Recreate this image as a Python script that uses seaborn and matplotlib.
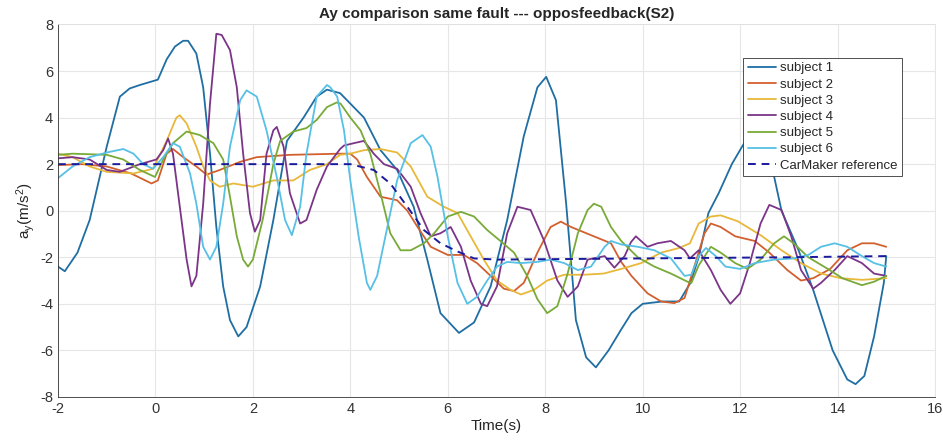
import pandas as pd
import matplotlib
matplotlib.use("Agg")
import matplotlib.pyplot as plt
import seaborn as sns

# --- data (time in s, ay in m/s^2) ---
s1_t = [-2.0, -1.86, -1.6, -1.35, -1.0, -0.73, -0.53, -0.32, 0.05, 0.23, 0.4, 0.57, 0.67, 0.84, 0.98,
        1.12, 1.25, 1.39, 1.53, 1.7, 1.87, 2.15, 2.42, 2.7, 3.04, 3.31, 3.52, 3.79, 4.0, 4.28, 4.62, 4.96,
        5.3, 5.58, 5.85, 6.23, 6.54, 6.88, 7.22, 7.56, 7.84, 8.02, 8.22, 8.43, 8.63, 8.84, 9.04, 9.3,
        9.56, 9.77, 10.0, 10.4, 10.75, 10.98, 11.15, 11.35, 11.56, 11.83, 12.04, 12.2, 12.45, 12.7, 12.85,
        13.2, 13.5, 13.9, 14.2, 14.37, 14.55, 14.75, 14.95, 15.0]
s1_a = [-2.4, -2.6, -1.8, -0.4, 2.75, 4.9, 5.25, 5.4, 5.63, 6.5, 7.05, 7.3, 7.3, 6.75, 5.3,
        2.45, -0.7, -3.25, -4.7, -5.4, -5.0, -3.25, -0.4, 3.0, 4.0, 4.9, 5.2, 5.05, 4.6, 4.0, 2.6, 1.75,
        0.17, -2.1, -4.4, -5.25, -4.8, -3.25, -0.4, 3.2, 5.3, 5.75, 4.75, 0.3, -4.7, -6.3, -6.73, -6.0,
        -5.1, -4.4, -4.0, -3.9, -3.9, -3.1, -2.0, -0.1, 0.75, 2.0, 2.75, 3.3, 3.8, 1.45, 0.0,
        -1.7, -3.4, -6.0, -7.25, -7.45, -7.1, -5.4, -3.1, -1.95]

s2_t = [-2.0, -1.5, -1.0, -0.5, -0.08, 0.05, 0.23, 0.36, 0.57, 0.84, 1.05, 1.32, 1.74, 2.08, 2.76, 3.8,
        4.0, 4.14, 4.34, 4.62, 4.96, 5.17, 5.38, 5.65, 6.0, 6.33, 6.6, 6.88, 7.15, 7.36, 7.56, 7.84, 8.11,
        8.32, 8.53, 8.94, 9.35, 9.56, 9.77, 10.1, 10.38, 10.65, 10.86, 11.06, 11.27, 11.4, 11.6, 11.9,
        12.3, 12.6, 12.97, 13.25, 13.5, 13.85, 14.2, 14.5, 14.75, 15.0]
s2_a = [1.96, 2.0, 1.9, 1.6, 1.17, 1.3, 2.45, 2.65, 2.3, 1.9, 1.55, 1.75, 2.1, 2.3, 2.4, 2.45,
        2.45, 2.2, 1.45, 0.6, 0.45, 0.0, -0.7, -1.55, -1.9, -1.9, -2.25, -2.8, -3.35, -3.45, -3.1, -1.8, -0.7,
        -0.47, -0.7, -1.05, -1.4, -2.2, -2.8, -3.55, -3.9, -3.97, -3.75, -2.4, -0.97, -0.55, -0.7, -1.1,
        -1.3, -1.8, -2.55, -3.0, -2.9, -2.5, -1.7, -1.4, -1.4, -1.55]

s3_t = [-2.0, -1.7, -1.35, -1.0, -0.45, -0.05, 0.23, 0.43, 0.5, 0.64, 0.84, 0.98, 1.12, 1.32, 1.6, 2.0,
        2.42, 2.83, 3.17, 3.52, 3.79, 4.0, 4.28, 4.62, 4.96, 5.24, 5.58, 5.92, 6.2, 6.47, 6.74, 7.01, 7.29,
        7.5, 7.77, 8.04, 8.39, 8.8, 9.2, 9.56, 9.97, 10.38, 10.75, 10.97, 11.15, 11.4, 11.6, 11.95, 12.42,
        12.85, 13.25, 13.66, 14.07, 14.5, 15.0]
s3_a = [2.45, 2.3, 1.9, 1.67, 1.6, 1.8, 3.0, 4.0, 4.1, 3.75, 2.75, 1.9, 1.3, 1.03, 1.17, 1.03,
        1.3, 1.3, 1.75, 2.0, 2.4, 2.45, 2.6, 2.65, 2.5, 1.9, 0.6, 0.17, -0.1, -1.1, -2.1, -3.0, -3.4,
        -3.6, -3.4, -3.0, -2.75, -2.75, -2.7, -2.5, -2.25, -1.8, -1.6, -1.4, -0.55, -0.25, -0.2, -0.45, -1.05,
        -1.7, -2.25, -2.7, -2.9, -2.97, -2.9]

s4_t = [-2.0, -1.7, -1.35, -1.0, -0.73, -0.32, 0.02, 0.16, 0.26, 0.36, 0.5, 0.64, 0.74, 0.84, 0.98,
        1.12, 1.25, 1.36, 1.53, 1.67, 1.8, 1.94, 2.04, 2.15, 2.28, 2.42, 2.49, 2.63, 2.76, 2.97, 3.1, 3.31,
        3.52, 3.79, 3.87, 4.07, 4.28, 4.48, 4.69, 4.96, 5.24, 5.44, 5.65, 5.85, 6.06, 6.27, 6.47, 6.68,
        6.81, 7.01, 7.22, 7.43, 7.7, 7.97, 8.25, 8.46, 8.67, 8.87, 9.22, 9.42, 9.63, 9.76, 9.86, 10.1,
        10.3, 10.58, 10.86, 10.97, 11.15, 11.4, 11.6, 11.8, 12.0, 12.2, 12.42, 12.6, 12.85, 13.05, 13.25,
        13.5, 13.66, 13.94, 14.2, 14.5, 14.75, 15.0]
s4_a = [2.25, 2.3, 2.2, 1.75, 1.67, 2.0, 2.2, 2.6, 3.1, 2.45, 0.17, -2.1, -3.25, -2.8, 0.3,
        4.6, 7.6, 7.55, 6.9, 5.3, 2.45, -0.1, -0.9, -0.4, 2.45, 3.45, 3.6, 2.75, 0.75, -0.55, -0.4, 0.9,
        1.9, 2.65, 2.8, 2.9, 3.0, 2.45, 2.0, 1.8, 1.03, -0.1, -1.1, -0.97, -0.7, -1.55, -3.0, -4.0,
        -4.1, -3.25, -0.97, 0.17, 0.03, -1.25, -3.0, -3.7, -3.25, -2.1, -1.95, -2.45, -1.95, -1.35, -1.1, -1.55,
        -1.4, -1.3, -1.7, -2.05, -1.7, -2.55, -3.4, -4.0, -3.55, -2.25, -0.55, 0.25, 0.03, -1.1, -2.55,
        -3.35, -3.1, -2.55, -1.95, -2.25, -2.7, -2.8]

s5_t = [-2.0, -1.7, -1.0, -0.66, -0.32, -0.01, 0.16, 0.36, 0.64, 0.91, 1.19, 1.39, 1.53, 1.67, 1.8, 1.9,
        2.0, 2.2, 2.42, 2.56, 2.83, 3.1, 3.31, 3.52, 3.72, 3.8, 4.0, 4.21, 4.41, 4.62, 4.82, 5.03, 5.24,
        5.51, 5.72, 6.0, 6.27, 6.54, 6.81, 7.08, 7.36, 7.63, 7.84, 8.04, 8.25, 8.46, 8.67, 8.87, 9.0, 9.15,
        9.35, 9.56, 9.9, 10.24, 10.58, 10.92, 11.0, 11.15, 11.4, 11.6, 11.9, 12.15, 12.42, 12.7, 12.9,
        13.1, 13.4, 13.8, 14.1, 14.5, 14.75, 15.0]
s5_a = [2.4, 2.45, 2.4, 2.2, 1.75, 1.45, 2.2, 2.9, 3.4, 3.25, 2.9, 2.2, 0.6, -1.1, -2.1, -2.4,
        -2.1, -0.4, 2.0, 3.0, 3.4, 3.55, 3.9, 4.45, 4.65, 4.6, 4.0, 3.45, 2.45, 0.75, -0.97, -1.7, -1.7,
        -1.4, -0.97, -0.25, -0.05, -0.25, -0.83, -1.3, -1.8, -2.8, -3.8, -4.4, -4.1, -2.7, -0.97, 0.03, 0.3, 0.17,
        -0.7, -1.3, -2.0, -2.4, -2.7, -3.05, -3.1, -2.35, -1.55, -1.8, -2.25, -2.5, -2.1, -1.4, -1.1,
        -1.4, -2.0, -2.5, -2.9, -3.2, -3.05, -2.8]

s6_t = [-2.0, -1.7, -1.35, -1.0, -0.66, -0.45, -0.25, -0.05, 0.16, 0.36, 0.5, 0.71, 0.84, 0.98, 1.12,
        1.25, 1.39, 1.53, 1.74, 1.87, 2.08, 2.28, 2.49, 2.66, 2.8, 2.97, 3.1, 3.31, 3.52, 3.59, 3.73, 3.87,
        4.0, 4.17, 4.34, 4.41, 4.55, 4.76, 4.96, 5.24, 5.48, 5.65, 5.79, 6.0, 6.2, 6.4, 6.6, 6.81, 7.01,
        7.22, 7.5, 7.84, 8.11, 8.39, 8.67, 8.94, 9.22, 9.35, 9.56, 9.9, 10.24, 10.58, 10.86, 11.0, 11.15,
        11.3, 11.5, 11.7, 12.0, 12.3, 12.7, 13.1, 13.4, 13.66, 13.94, 14.2, 14.5, 14.75, 15.0]
s6_a = [1.4, 1.9, 2.3, 2.5, 2.65, 2.45, 2.0, 1.8, 2.3, 2.9, 2.75, 1.6, 0.3, -1.55, -2.1,
        -1.55, 0.3, 2.75, 4.75, 5.17, 4.9, 3.45, 1.45, -0.4, -1.05, 0.17, 2.45, 4.9, 5.4, 5.3, 4.9, 3.45,
        1.3, -1.1, -3.1, -3.4, -2.8, -0.7, 1.3, 2.9, 3.25, 2.75, 1.45, -1.1, -3.1, -4.0, -3.7, -3.0, -2.4,
        -2.2, -2.25, -2.2, -2.1, -2.25, -2.55, -2.4, -1.55, -1.3, -1.45, -1.55, -1.7, -2.05, -2.8, -2.75, -1.95,
        -1.6, -1.95, -2.4, -2.5, -2.25, -2.1, -2.05, -1.9, -1.55, -1.4, -1.55, -1.95, -2.25, -2.4]

ref_t = [-2.0, 3.5, 4.0, 4.48, 4.82, 5.17, 5.51, 5.85, 6.2, 6.54, 7.01, 10.0, 13.0, 15.0]
ref_a = [2.0, 2.0, 2.0, 1.75, 1.17, 0.17, -0.83, -1.4, -1.75, -2.05, -2.1, -2.05, -2.0, -1.95]

labels = ['subject 1', 'subject 2', 'subject 3', 'subject 4', 'subject 5', 'subject 6']
colors = ['#1f6ea3', '#d2602f', '#e8b83a', '#7b3588', '#78aa38', '#56c0e6']

sns.set_style("white")
plt.rcParams['font.family'] = ['Liberation Sans', 'DejaVu Sans']
plt.rcParams['mathtext.default'] = 'regular'
plt.rcParams['axes.unicode_minus'] = False

fig = plt.figure(figsize=(9.43, 4.45), dpi=100)
ax = fig.add_axes([0.0615, 0.108, 0.93, 0.837])

series = [(s1_t, s1_a), (s2_t, s2_a), (s3_t, s3_a), (s4_t, s4_a), (s5_t, s5_a), (s6_t, s6_a)]
for (t, a), lab, col in zip(series, labels, colors):
    df = pd.DataFrame({'t': t, 'a': a})
    sns.lineplot(data=df, x='t', y='a', ax=ax, color=col, lw=1.3, label=lab, sort=False)

df_ref = pd.DataFrame({'t': ref_t, 'a': ref_a})
sns.lineplot(data=df_ref, x='t', y='a', ax=ax, color='#1a1a9c', lw=1.4, ls=(0, (4, 3)),
             label='CarMaker reference', sort=False)

ax.set_xlim(-2, 16)
ax.set_ylim(-8, 8)
ax.set_xticks(range(-2, 17, 2))
ax.set_yticks(range(-8, 9, 2))
ax.grid(True, color='#e6e6e6', lw=0.8)
ax.tick_params(direction='in', length=4, labelsize=10.5, colors='#333333', width=0.6)
for sp in ax.spines.values():
    sp.set_color('#333333')
    sp.set_linewidth(0.6)
ax.spines['top'].set_color('#e0e0e0')
ax.spines['right'].set_color('#e0e0e0')

ax.set_title('Ay comparison same fault --- opposfeedback(S2)', fontsize=11, fontweight='bold', pad=5)
ax.set_xlabel('Time(s)', fontsize=11, labelpad=2)
ax.set_ylabel(r'a$_y$(m/s$^2$)', fontsize=11, labelpad=2)

leg = ax.legend(loc='upper right', bbox_to_anchor=(0.962, 0.911), fontsize=9.5, handlelength=2.1,
                handletextpad=0.3, labelspacing=0.3, borderpad=0.35, frameon=True, fancybox=False,
                borderaxespad=0, framealpha=1)
leg.get_frame().set_edgecolor('#333333')
leg.get_frame().set_linewidth(0.6)

fig.savefig('out.png', dpi=100)
